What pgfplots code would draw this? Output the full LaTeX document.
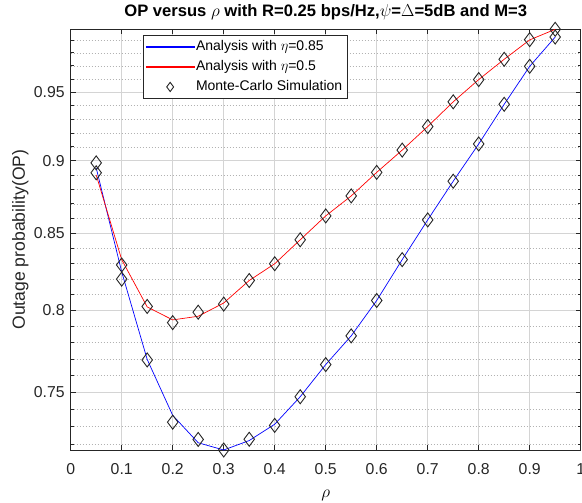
\documentclass[border=0pt]{standalone}
\usepackage{pgfplots}
\pgfplotsset{compat=1.18}
\usepackage{fontspec}
\setmainfont{Liberation Sans}
\definecolor{legb}{RGB}{0,0,255}
\definecolor{legr}{RGB}{255,0,0}
\pgfplotsset{
  legblue/.style={legend image code/.code={\fill[fill=legb] (0pt,-0.35pt) rectangle (47.5pt,0.35pt);}},
  legred/.style={legend image code/.code={\fill[fill=legr] (0pt,-0.35pt) rectangle (47.5pt,0.35pt);}},
  legmark/.style={legend image code/.code={\draw[black!85,line width=0.9pt,mark=diamond,mark size=4.6pt] plot[only marks] coordinates {(23.5pt,0pt)};}},
}
\begin{document}
\begin{tikzpicture}
\begin{axis}[
  scale only axis, width=510pt, height=420.7pt,
  at={(0pt,0pt)}, anchor=south west,
  xmin=0, xmax=1,
  ymode=log, ymin=0.7165, ymax=0.9983,
  clip=false,
  axis line style={black!85, line width=0.6pt},
  tick style={black!85, line width=0.6pt},
  major tick length=5pt, minor tick length=3pt,
  tick align=inside,
  xtick={0,0.1,0.2,0.3,0.4,0.5,0.6,0.7,0.8,0.9,1},
  xticklabels={0,0.1,0.2,0.3,0.4,0.5,0.6,0.7,0.8,0.9,1},
  ytick={0.75,0.8,0.85,0.9,0.95},
  yticklabels={0.75,0.8,0.85,0.9,0.95},
  minor ytick={0.72,0.73,0.74,0.76,0.77,0.78,0.79,0.81,0.82,0.83,0.84,0.86,0.87,0.88,0.89,0.91,0.92,0.93,0.94,0.96,0.97,0.98,0.99},
  grid=both,
  major grid style={black!17, line width=0.6pt},
  minor y grid style={black!30, line width=0.5pt, dash pattern=on 1.5pt off 1.5pt},
  minor x grid style={draw=none},
  xticklabel style={font=\fontsize{15.8}{18}\selectfont, text=black!85, anchor=base, yshift=-24pt},
  yticklabel style={font=\fontsize{15.8}{18}\selectfont, text=black!85, xshift=-2.5pt},
  /pgf/number format/assume math mode=true,
  title={OP versus $\rho$ with R=0.25 bps/Hz,$\psi$=$\Delta$=5dB and M=3},
  title style={font=\fontsize{16.6}{19}\selectfont\bfseries, anchor=base, at={(axis description cs:0.5,1)}, yshift=6.6pt},
  xlabel={$\rho$},
  xlabel style={font=\fontsize{18}{20}\selectfont, anchor=base, at={(axis description cs:0.5,0)}, yshift=-47pt},
  ylabel={Outage probability(OP)},
  ylabel style={font=\fontsize{17.6}{20}\selectfont, text=black!85, anchor=base, at={(axis description cs:0,0.5)}, yshift=45.7pt},
  legend style={at={(axis description cs:0.1418,0.9865)}, anchor=north west,
    font=\fontsize{14}{17}\selectfont, draw=black!85, line width=0.6pt, fill=white,
    inner xsep=3pt, inner ysep=3.5pt, row sep=3.7pt,
    nodes={inner sep=1.5pt, text height=10.3pt, text depth=3pt}},
  legend cell align=left,
]
\addplot[blue, line width=0.7pt, legblue]
  coordinates {
  (0.05,0.895) (0.1,0.8245) (0.15,0.7695) (0.2,0.7364) (0.25,0.7206)
  (0.3,0.7165) (0.35,0.7218) (0.4,0.7312) (0.45,0.7472) (0.5,0.7664)
  (0.55,0.7840) (0.6,0.8061) (0.65,0.8325) (0.7,0.8590) (0.75,0.8856)
  (0.8,0.9120) (0.85,0.9410) (0.9,0.9696) (0.95,0.9922)};
\addlegendentry{Analysis with $\eta$=0.85}
\addplot[red, line width=0.7pt, legred]
  coordinates {
  (0.05,0.890) (0.1,0.8325) (0.15,0.8020) (0.2,0.7940) (0.25,0.7962)
  (0.3,0.8045) (0.35,0.8189) (0.4,0.8298) (0.45,0.8456) (0.5,0.8617)
  (0.55,0.8754) (0.6,0.8918) (0.65,0.9076) (0.7,0.9246) (0.75,0.9428)
  (0.8,0.9595) (0.85,0.9750) (0.9,0.9900) (0.95,0.9983)};
\addlegendentry{Analysis with $\eta$=0.5}
\addplot[only marks, mark=diamond, mark size=7pt, black!85, line width=0.9pt,
  mark options={solid}, legmark]
  coordinates {
  (0.05,0.8985) (0.1,0.8198) (0.15,0.7693) (0.2,0.7324) (0.25,0.7225)
  (0.3,0.7165) (0.35,0.7226) (0.4,0.7305) (0.45,0.7472) (0.5,0.7664)
  (0.55,0.7840) (0.6,0.8061) (0.65,0.8325) (0.7,0.8590) (0.75,0.8856)
  (0.8,0.9120) (0.85,0.9410) (0.9,0.9696) (0.95,0.9922)};
\addlegendentry{Monte-Carlo Simulation}
\addplot[only marks, mark=diamond, mark size=7pt, black!85, line width=0.9pt,
  mark options={solid}, forget plot]
  coordinates {
  (0.05,0.8915) (0.1,0.829) (0.15,0.8023) (0.2,0.7922) (0.25,0.7988)
  (0.3,0.8038) (0.35,0.8189) (0.4,0.8298) (0.45,0.8456) (0.5,0.8617)
  (0.55,0.8754) (0.6,0.8918) (0.65,0.9076) (0.7,0.9246) (0.75,0.9428)
  (0.8,0.9595) (0.85,0.9750) (0.9,0.9902) (0.95,0.9983)};
\end{axis}
\pgfresetboundingbox
\path[use as bounding box] (-70.7pt,-53pt) rectangle (511.3pt,450pt);
\end{tikzpicture}
\end{document}
